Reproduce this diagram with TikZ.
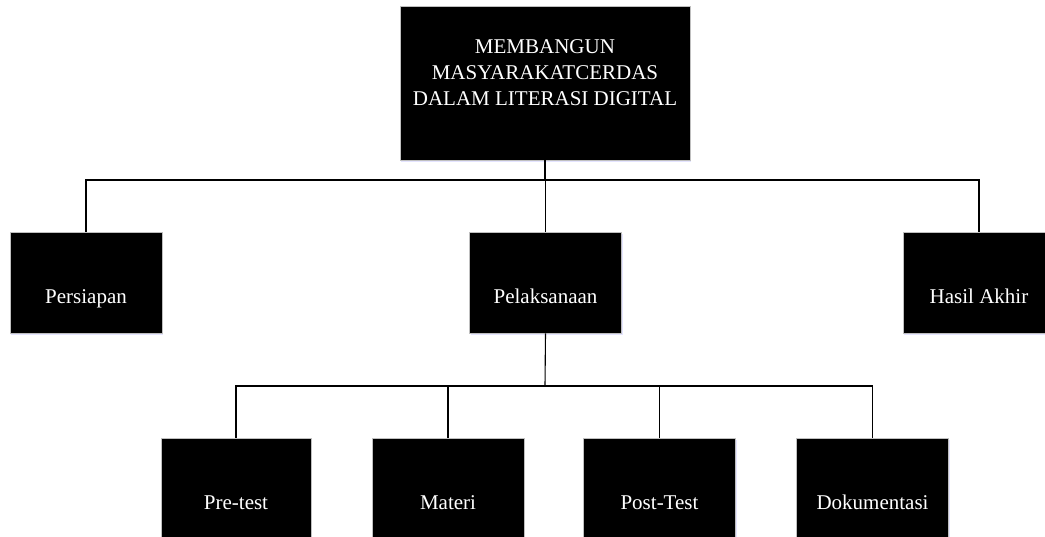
\documentclass[tikz,border=0pt]{standalone}
\usepackage{fontspec}
\setmainfont{Liberation Serif}
\usetikzlibrary{positioning,shadows}

\tikzset{
	blok/.style={draw=gray!50, line width=0.9pt, fill=black, text=white,
		font=\fontsize{21}{26}\selectfont, inner sep=0pt,
		minimum width=152pt, minimum height=101pt,
		text height=48pt, text depth=6pt,
		drop shadow={shadow xshift=1pt, shadow yshift=-2pt, fill=blue!30, opacity=0.35}},
	garis/.style={line width=1.1pt, black}
}

\begin{document}
\begin{tikzpicture}[x=1pt, y=-1pt]
	\useasboundingbox (0,0) rectangle (1045,536);
	
	% titik cabang garis
	\coordinate (bus1) at (545,180);
	\coordinate (bus2) at (545,386);
	
	% kotak judul
	\node[blok, minimum width=290pt, minimum height=154pt, align=center,
		text height=66pt, text depth=22pt] (judul) at (545,83)
		{MEMBANGUN\\MASYARAKATCERDAS\\DALAM LITERASI DIGITAL};
	
	% tahap
	\node[blok] (persiapan) at (86,282.5) {Persiapan};
	\node[blok] (pelaksanaan) at (545.5,282.5) {Pelaksanaan};
	\node[blok] (hasil) at (979,282.5) {Hasil Akhir};
	
	% kegiatan pelaksanaan
	\node[blok, minimum width=150pt] (pretest) at (236,488.5) {Pre-test};
	\node[blok] (materi) at (448,488.5) {Materi};
	\node[blok] (posttest) at (659.5,488.5) {Post-Test};
	\node[blok] (dokumentasi) at (872.5,488.5) {Dokumentasi};
	
	\draw[garis] (judul.south) -- (bus1);
	\foreach \n in {persiapan, pelaksanaan, hasil}
		\draw[garis] (bus1) -| (\n.north);
	
	\draw[garis] (pelaksanaan.south) -- (bus2);
	\foreach \n in {pretest, materi, posttest, dokumentasi}
		\draw[garis] (bus2) -| (\n.north);
	
\end{tikzpicture}
\end{document}
